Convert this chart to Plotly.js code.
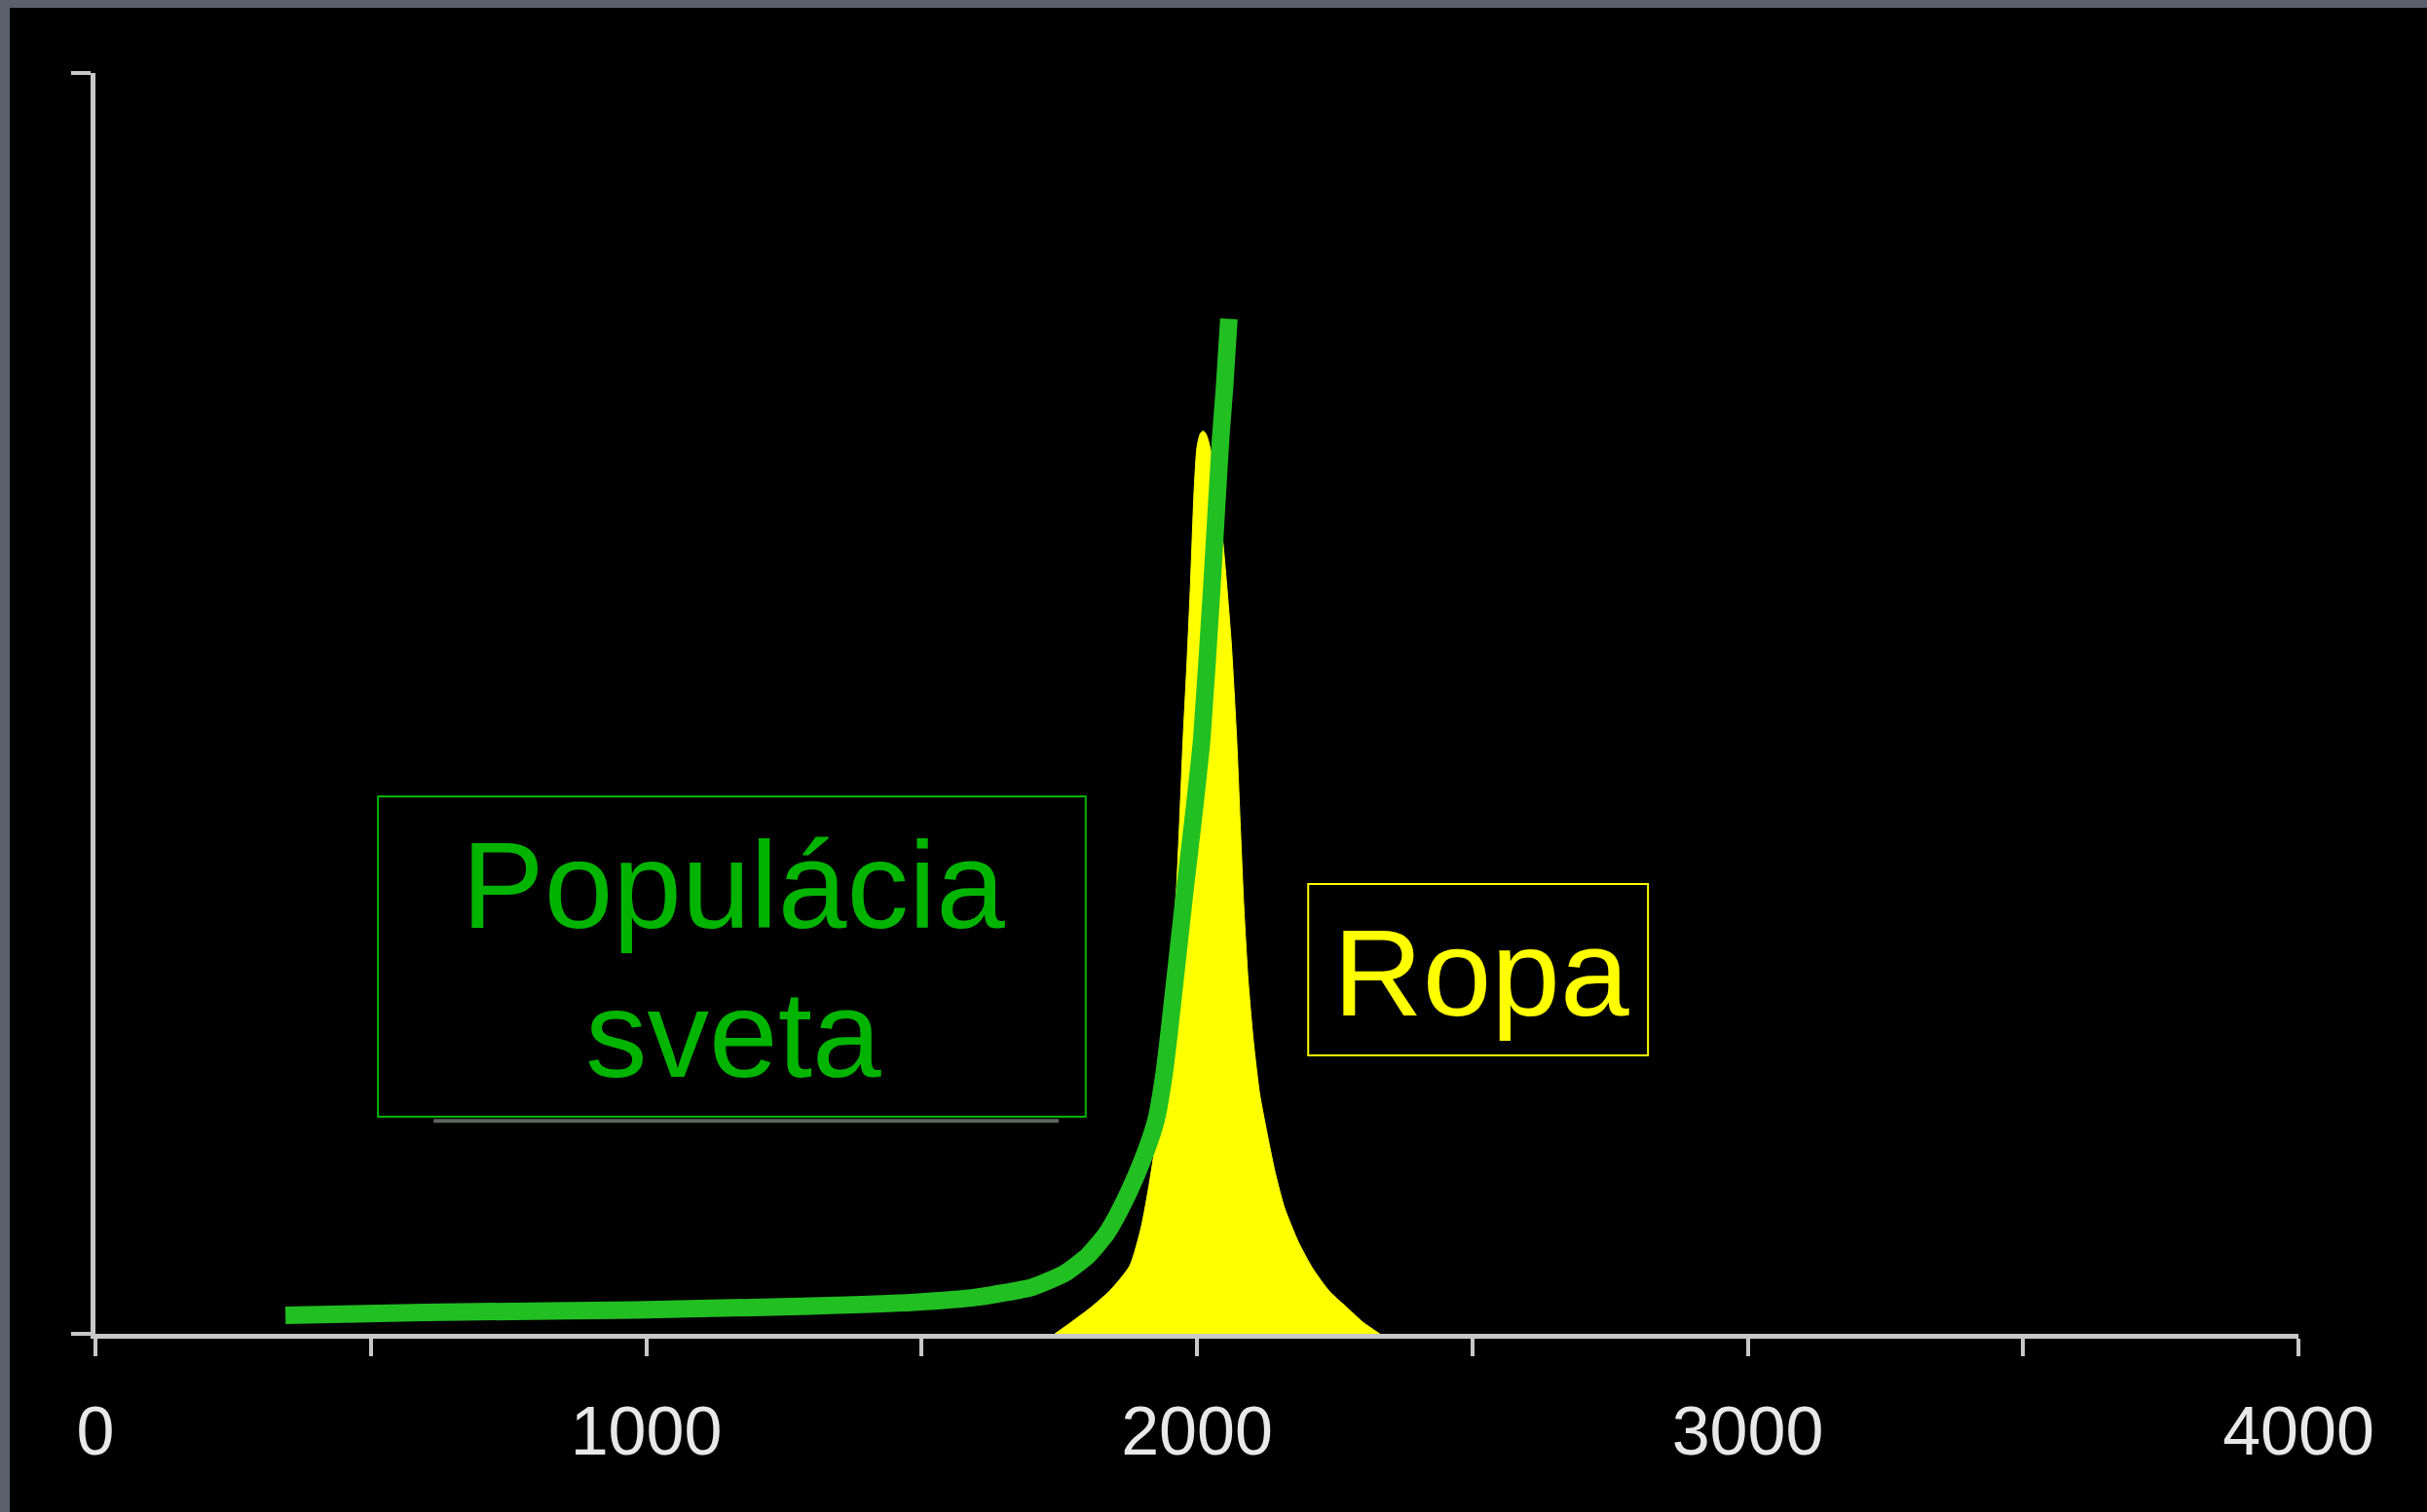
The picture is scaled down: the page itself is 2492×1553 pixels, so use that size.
<!DOCTYPE html>
<html>
<head>
<meta charset="utf-8">
<script src="https://cdn.plot.ly/plotly-3.0.1.min.js"></script>
<style>
  html, body { margin: 0; padding: 0; background: #5a5f6c; width: 2492px; height: 1553px; overflow: hidden; }
  #chart { position: absolute; left: 10px; top: 8px; width: 2482px; height: 1545px; }
</style>
</head>
<body>
<div id="chart"></div>
<script>
// Population of the world (green line), relative scale
const popYears  = [345, 600, 980, 1300, 1487, 1600, 1701, 1760, 1802, 1835, 1860, 1890, 1910, 1926, 1940, 1949, 1965, 1979, 1995, 2009, 2027, 2043, 2050, 2058];
const popValues = [0.0147, 0.017, 0.019, 0.022, 0.025, 0.029, 0.037, 0.048, 0.062, 0.079, 0.098, 0.126, 0.148, 0.17, 0.205, 0.237, 0.30, 0.355, 0.415, 0.473, 0.592, 0.71, 0.75, 0.805];

// Oil (yellow filled peak), relative scale
const oilYears  = [1742, 1772, 1807, 1843, 1878, 1899, 1913, 1931, 1943, 1963, 1975, 1982, 1988, 1995, 2000, 2006, 2011, 2016, 2021, 2032, 2047, 2062, 2072, 2079, 2085, 2093, 2103, 2114, 2126, 2142, 2159, 2184, 2210, 2240, 2272, 2302, 2332];
const oilValues = [0, 0.0093, 0.0208, 0.0347, 0.054, 0.085, 0.118, 0.170, 0.237, 0.355, 0.473, 0.533, 0.592, 0.670, 0.703, 0.714, 0.716, 0.714, 0.708, 0.685, 0.629, 0.55, 0.473, 0.40, 0.34, 0.28, 0.23, 0.19, 0.162, 0.128, 0.10, 0.073, 0.052, 0.034, 0.021, 0.009, 0];

// Axis ticks
const xTickVals = [0, 500, 1000, 1500, 2000, 2500, 3000, 3500, 4000];
const xTickText = ['0', '', '1000', '', '2000', '', '3000', '', '4000'];

// Labels
const popLabel = ['Populácia', 'sveta'];
const oilLabel = 'Ropa';

const green = '#22bf22';
const textGreen = '#00b400';
const yellow = '#ffff00';
const axisGray = '#c8c8c8';

const traces = [
  {
    x: oilYears, y: oilValues, type: 'scatter', mode: 'lines',
    fill: 'tozeroy', fillcolor: yellow,
    line: { color: yellow, width: 1, shape: 'spline', smoothing: 0.6 },
    hoverinfo: 'skip', showlegend: false
  },
  {
    x: popYears, y: popValues, type: 'scatter', mode: 'lines',
    line: { color: green, width: 18, shape: 'spline', smoothing: 0.5 },
    hoverinfo: 'skip', showlegend: false
  }
];

const layout = {
  width: 2482, height: 1545,
  paper_bgcolor: '#000000', plot_bgcolor: '#000000',
  margin: { l: 88, r: 132, t: 67, b: 183 },
  showlegend: false,
  xaxis: {
    range: [0, 4000], showgrid: false, zeroline: false,
    showline: true, linecolor: axisGray, linewidth: 5,
    ticks: 'outside', ticklen: 18, tickwidth: 4, tickcolor: axisGray,
    tickmode: 'array', tickvals: xTickVals, ticktext: xTickText,
    tickfont: { family: 'Liberation Sans, Arial, sans-serif', size: 70, color: '#e8e8e8' },
    ticklabelstandoff: 17
  },
  yaxis: {
    range: [0, 1], showgrid: false, zeroline: false,
    showline: true, linecolor: axisGray, linewidth: 5,
    ticks: 'outside', ticklen: 20, tickwidth: 4, tickcolor: axisGray,
    tickmode: 'array', tickvals: [0, 1], showticklabels: false
  },
  shapes: [
    { type: 'rect', xref: 'x', yref: 'y', x0: 513, x1: 1798, y0: 0.1722, y1: 0.4263,
      line: { color: textGreen, width: 2 }, fillcolor: 'rgba(0,0,0,0)' },
    { type: 'line', xref: 'x', yref: 'y', x0: 614, x1: 1749, y0: 0.169, y1: 0.169,
      line: { color: 'rgba(170,185,170,0.55)', width: 4 } },
    { type: 'rect', xref: 'x', yref: 'y', x0: 2202, x1: 2819, y0: 0.2208, y1: 0.3568,
      line: { color: yellow, width: 2 }, fillcolor: 'rgba(0,0,0,0)' }
  ],
  annotations: [
    { x: 1158, y: 0.356, xref: 'x', yref: 'y', text: popLabel[0], showarrow: false,
      xanchor: 'center', yanchor: 'middle',
      font: { family: 'Liberation Sans, Arial, sans-serif', size: 127, color: textGreen } },
    { x: 1158, y: 0.2378, xref: 'x', yref: 'y', text: popLabel[1], showarrow: false,
      xanchor: 'center', yanchor: 'middle',
      font: { family: 'Liberation Sans, Arial, sans-serif', size: 127, color: textGreen } },
    { x: 2516, y: 0.2865, xref: 'x', yref: 'y', text: oilLabel, showarrow: false,
      xanchor: 'center', yanchor: 'middle',
      font: { family: 'Liberation Sans, Arial, sans-serif', size: 127, color: yellow } }
  ]
};

Plotly.newPlot('chart', traces, layout, { displayModeBar: false, staticPlot: true });
</script>
</body>
</html>
